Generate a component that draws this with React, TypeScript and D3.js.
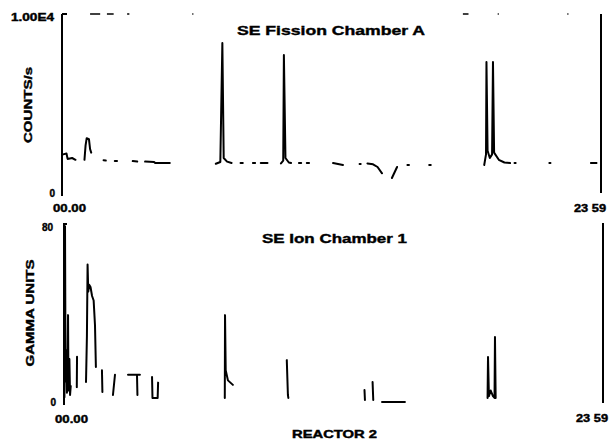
import React from "react";
import * as d3 from "d3";

type Pt = [number, number] | null;

// time of day in hours, 00.00 .. 23.59
const timeLabels = ["00.00", "23 59"];
const fissionLabels = ["0", "1.00E4"];
const gammaLabels = ["0", "80"];
const fissionMax = 10000;
const gammaMax = 80;

// SE Fission Chamber A, counts/s (null = trace missing on the chart)
const fissionA: Pt[] = [
  [0.05, 2200], [0.2, 2250], [0.25, 1950], [0.45, 2000], [0.6, 1900], null,
  [1.0, 1900], [1.05, 2700], [1.1, 3100], [1.2, 3050], [1.25, 2500], [1.3, 2300], null,
  [1.85, 1880], [1.95, 1860], null,
  [2.35, 1830], [2.45, 1830], null,
  [3.15, 1830], [3.35, 1800], null,
  [3.7, 1800], [4.1, 1780], [4.15, 1720], [4.8, 1720], null,
  [6.85, 1680], [7.05, 1780], [7.14, 8390], [7.2, 2000], [7.35, 1800], [7.55, 1720], null,
  [7.95, 1720], [8.05, 1720], null,
  [8.5, 1720], [8.6, 1720], null,
  [8.85, 1720], [9.15, 1720], null,
  [9.75, 1700], [9.85, 1850], [9.88, 7720], [9.95, 2000], [10.1, 1750], [10.2, 1720], null,
  [10.55, 1720], [10.65, 1720], null,
  [10.9, 1720], [11.0, 1720], null,
  [12.07, 1720], [12.51, 1610], null,
  [13.25, 1670], [13.3, 1670], null,
  [13.6, 1700], [13.85, 1650], [14.05, 1500], [14.25, 1150], null,
  [14.69, 890], [14.92, 1500], null,
  [15.38, 1610], [15.45, 1610], null,
  [16.35, 1610], [16.42, 1610], null,
  [18.8, 1610], [18.88, 2200], [18.9, 7330], [18.95, 2400], [19.05, 2000], [19.15, 2200],
  [19.19, 7330], [19.24, 2300], [19.45, 1900], [19.7, 1750], [19.95, 1720], null,
  [20.15, 1720], [20.2, 1720], null,
  [21.7, 1720], [21.75, 1720], null,
  [23.55, 1720], [23.8, 1720],
];

// SE Ion Chamber 1, gamma units
const gamma1: Pt[] = [
  [0.02, 3], [0.045, 79], [0.07, 10], [0.1, 24], [0.13, 5], [0.16, 18], [0.18, 39.5],
  [0.2, 6], [0.24, 20], [0.27, 4], [0.3, 8], null,
  [0.57, 7.5], [0.58, 21], null,
  [0.98, 9.8], [1.02, 30], [1.05, 62], [1.08, 50], [1.12, 53], [1.18, 52], [1.25, 48],
  [1.32, 46], [1.38, 35], [1.42, 16.4], null,
  [1.69, 15], [1.71, 5.3], null,
  [2.18, 4], [2.27, 13], null,
  [2.85, 13], [3.38, 13], null,
  [3.25, 13], [3.27, 4], null,
  [3.92, 12], [3.94, 2.7], [4.17, 2.7], [4.19, 9.5], null,
  [7.16, 2.7], [7.17, 39.5], [7.2, 15], [7.3, 10.5], [7.52, 8.5], null,
  [9.92, 19.5], [9.97, 4], [9.99, 2.7], null,
  [13.38, 6.2], [13.4, 1.8], null,
  [13.74, 9.8], [13.77, 1.8], null,
  [14.16, 0.9], [15.18, 0.9], null,
  [18.86, 2.7], [18.88, 20.9], [18.92, 3.5], [19.0, 6], [19.1, 3.5], [19.17, 2.7],
  [19.19, 29.8], [19.22, 2.7],
];

// broken top frame line of the upper panel (hour ranges)
const topDashes: [number, number][] = [
  [1.25, 1.7], [2.0, 2.3], [2.9, 3.0], [5.8, 5.85], [17.85, 18.1], [19.4, 19.45], [22.5, 22.55],
];

const font = "'Liberation Sans', Arial, sans-serif";

export default function App() {
  const xTop = d3.scaleLinear().domain([0, 24]).range([62, 601]);
  const yTop = d3.scaleLinear().domain([0, fissionMax]).range([194, 14]);
  const xBot = d3.scaleLinear().domain([0, 24]).range([64, 603]);
  const yBot = d3.scaleLinear().domain([0, gammaMax]).range([404, 224]);

  const lineTop = d3
    .line<Pt>()
    .defined((d) => d !== null)
    .x((d) => xTop(d![0]))
    .y((d) => yTop(d![1]));
  const lineBot = d3
    .line<Pt>()
    .defined((d) => d !== null)
    .x((d) => xBot(d![0]))
    .y((d) => yBot(d![1]));

  // scanned print: heavy, slightly smeared lettering
  const txt = {
    fontFamily: font,
    fontWeight: 700,
    fill: "#000",
    stroke: "#000",
    strokeWidth: 0.4,
  } as const;

  return (
    <svg
      width={615}
      height={442}
      style={{ position: "absolute", left: 0, top: 0, background: "#fff" }}
    >
      {/* upper panel */}
      <g stroke="#000" strokeWidth={2} fill="none">
        <line x1={xTop(0)} x2={xTop(0)} y1={yTop(fissionMax)} y2={yTop(0) + 2} />
        <line x1={xTop(0)} x2={xTop(0) + 5} y1={yTop(fissionMax)} y2={yTop(fissionMax)} />
        <line x1={xTop(24)} x2={xTop(24)} y1={yTop(fissionMax)} y2={yTop(0) - 1} />
        {topDashes.map(([a, b], i) => (
          <line key={i} x1={xTop(a)} x2={xTop(b)} y1={yTop(fissionMax)} y2={yTop(fissionMax)} strokeWidth={1.5} />
        ))}
        <path d={lineTop(fissionA) ?? ""} strokeLinejoin="round" strokeLinecap="round" />
      </g>
      <text {...txt} x={54} y={21} fontSize={10} textAnchor="end" textLength={43} lengthAdjust="spacingAndGlyphs">
        {fissionLabels[1]}
      </text>
      <text {...txt} x={55} y={197} fontSize={10} textAnchor="end">
        {fissionLabels[0]}
      </text>
      <text {...txt} x={53} y={212} fontSize={10} textLength={33} lengthAdjust="spacingAndGlyphs">
        {timeLabels[0]}
      </text>
      <text {...txt} x={574} y={212} fontSize={10} textLength={32} lengthAdjust="spacingAndGlyphs">
        {timeLabels[1]}
      </text>
      <text {...txt} x={237} y={35} fontSize={13} textLength={188} lengthAdjust="spacingAndGlyphs">
        SE Fission Chamber A
      </text>
      <text
        {...txt}
        fontSize={11}
        textAnchor="middle"
        textLength={76}
        lengthAdjust="spacingAndGlyphs"
        transform="translate(32,105) rotate(-90)"
      >
        COUNTS/s
      </text>

      {/* lower panel */}
      <g stroke="#000" strokeWidth={2} fill="none">
        <line x1={xBot(0)} x2={xBot(0)} y1={yBot(gammaMax)} y2={yBot(0) + 1} />
        <line x1={xBot(0) - 1} x2={xBot(0) + 3} y1={yBot(gammaMax)} y2={yBot(gammaMax)} />
        <line x1={xBot(24)} x2={xBot(24)} y1={yBot(gammaMax) - 1} y2={yBot(0) - 1} />
        <path d={lineBot(gamma1) ?? ""} strokeLinejoin="round" strokeLinecap="round" />
      </g>
      <text {...txt} x={53} y={231} fontSize={10} textAnchor="end">
        {gammaLabels[1]}
      </text>
      <text {...txt} x={56} y={406} fontSize={10} textAnchor="end">
        {gammaLabels[0]}
      </text>
      <text {...txt} x={55} y={423} fontSize={10} textLength={33} lengthAdjust="spacingAndGlyphs">
        {timeLabels[0]}
      </text>
      <text {...txt} x={576} y={422} fontSize={10} textLength={32} lengthAdjust="spacingAndGlyphs">
        {timeLabels[1]}
      </text>
      <text {...txt} x={262} y={243} fontSize={13} textLength={145} lengthAdjust="spacingAndGlyphs">
        SE Ion Chamber 1
      </text>
      <text
        {...txt}
        fontSize={11}
        textAnchor="middle"
        textLength={107}
        lengthAdjust="spacingAndGlyphs"
        transform="translate(34,313) rotate(-90)"
      >
        GAMMA UNITS
      </text>
      <text {...txt} x={292} y={438} fontSize={10} textLength={85} lengthAdjust="spacingAndGlyphs">
        REACTOR 2
      </text>
    </svg>
  );
}
